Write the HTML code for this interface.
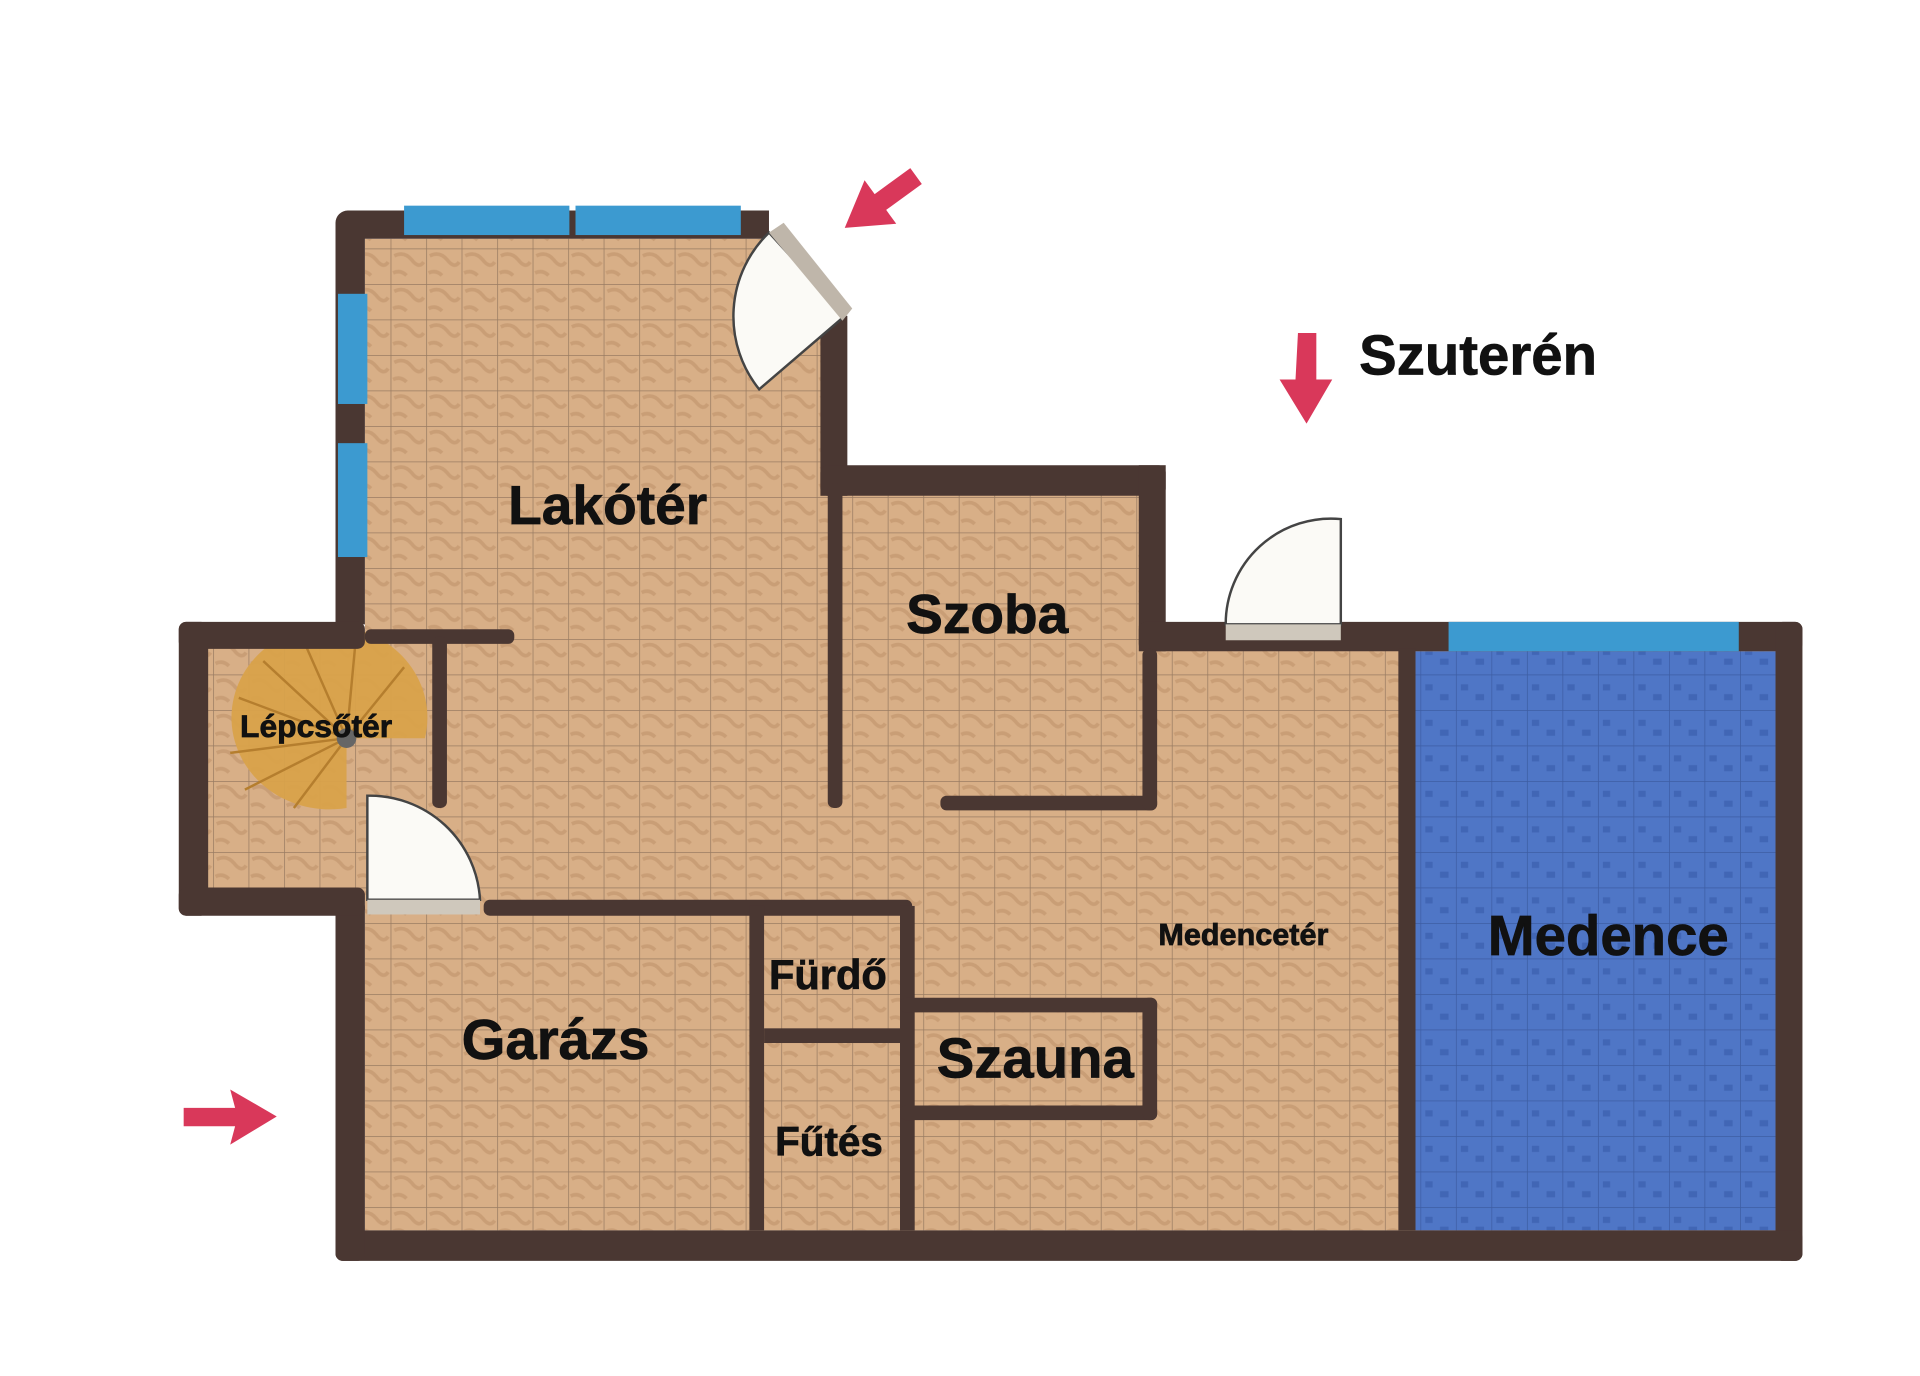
<!DOCTYPE html>
<html><head><meta charset="utf-8"><style>
html,body{margin:0;padding:0;background:#fff;}
svg{display:block;}
text{font-family:"Liberation Sans",sans-serif;font-weight:bold;fill:#111;stroke:#111;stroke-width:0.6;}
</style></head><body>
<svg width="1920" height="1376" viewBox="0 0 1568 1124" preserveAspectRatio="none" xmlns="http://www.w3.org/2000/svg">
<defs>
<pattern id="tile" width="29" height="29" patternUnits="userSpaceOnUse">
<rect width="29" height="29" fill="#d8af87"/>
<path d="M3 6 q8 -4 14 3 q6 8 10 2 M2 20 q6 -3 11 2" stroke="#c49870" stroke-width="3" fill="none" opacity=".7"/>
<path d="M0 0H29M0 0V29" stroke="#7d6552" stroke-width="1.2" opacity=".7"/>
</pattern>
<pattern id="pool" width="29" height="29" patternUnits="userSpaceOnUse">
<rect width="29" height="29" fill="#4f76c6"/>
<path d="M4 8 h6 v5 h-6z M16 16 h7 v5 h-7z" fill="#3a5fae" opacity=".7"/>
<path d="M0 0H29M0 0V29" stroke="#2f4c8c" stroke-width="1.2" opacity=".6"/>
</pattern>
</defs>
<rect width="1568" height="1124" fill="#fff"/>
<polygon points="298,195 628,195 680,255 680,395 940,395 940,530 1450,530 1450,1005 298,1005 298,735 160,735 160,520 298,520" fill="url(#tile)"/>
<rect x="1156" y="532" width="294" height="473" fill="url(#pool)"/>
<!-- stairs -->
<g>
<path d="M283 603 L347 603 A80 75 0 1 0 283 660 Z" fill="#d9a24a" opacity=".95"/>
<path d="M283 603 L195 570 M283 603 L215 540 M283 603 L250 528 M283 603 L290 528 M283 603 L330 545 M283 603 L188 615 M283 603 L200 645 M283 603 L240 660" stroke="#b57e2e" stroke-width="2"/>
<circle cx="283" cy="603" r="8" fill="#666"/>
</g>
<g fill="#4a3732">
<path d="M274 182 a10 10 0 0 1 10 -10 H628 V195 H298 V510 H274Z"/>
<rect x="670" y="258" width="22" height="147"/>
<rect x="670" y="380" width="282" height="25" rx="6"/>
<rect x="930" y="380" width="22" height="152"/>
<rect x="930" y="508" width="542" height="24" rx="6"/>
<rect x="1450" y="508" width="22" height="522" rx="6"/>
<rect x="274" y="1005" width="1198" height="25" rx="6"/>
<rect x="274" y="735" width="24" height="295" rx="6"/>
<rect x="146" y="508" width="152" height="22" rx="6"/>
<rect x="146" y="508" width="24" height="240" rx="6"/>
<rect x="146" y="725" width="152" height="23" rx="6"/>
<rect x="298" y="514" width="122" height="12" rx="5"/>
<rect x="353" y="520" width="12" height="140" rx="5"/>
<rect x="395" y="735" width="350" height="13" rx="5"/>
<rect x="676" y="395" width="12" height="265" rx="5"/>
<rect x="768" y="650" width="177" height="12" rx="5"/>
<rect x="933" y="530" width="12" height="132" rx="5"/>
<rect x="612" y="740" width="12" height="265"/>
<rect x="735" y="740" width="12" height="265"/>
<rect x="624" y="840" width="111" height="12"/>
<rect x="735" y="815" width="210" height="12" rx="5"/>
<rect x="735" y="903" width="210" height="12" rx="5"/>
<rect x="933" y="815" width="12" height="100" rx="5"/>
<rect x="1142" y="530" width="14" height="475"/>
</g>
<g fill="#3c9ad0">
<rect x="330" y="168" width="135" height="24"/>
<rect x="470" y="168" width="135" height="24"/>
<rect x="276" y="240" width="24" height="90"/>
<rect x="276" y="362" width="24" height="93"/>
<rect x="1183" y="508" width="237" height="24"/>
</g>
<g fill="#fbfaf6" stroke="#444" stroke-width="2">
<path d="M1095 510 V424 A86 86 0 0 0 1001 510Z"/>
<rect x="1001" y="510" width="94" height="13" fill="#cfc8bc" stroke="none"/>
<path d="M300 735 V650 A90 90 0 0 1 392 735Z"/>
<rect x="300" y="735" width="92" height="12" fill="#cfc8bc" stroke="none"/>
<path d="M628 190 L690 258 L620 318 A95 95 0 0 1 628 190Z"/>
<polygon points="628,190 640,182 696,252 688,262" fill="#bfb6aa" stroke="none"/>
</g>
<g fill="#d9385a">
<polygon transform="translate(719,165) rotate(54)" points="-8,-36 8,-36 8,0 22,0 0,36 -22,0 -8,0"/>
<polygon points="1060,272 1075,272 1075,310 1088,310 1067,346 1045,310 1058,310"/>
<polygon points="150,905 192,905 188,890 226,912 188,935 192,920 150,920"/>
</g>
<text x="1110" y="306" font-size="46">Szuterén</text>
<text x="415" y="428" font-size="45">Lakótér</text>
<text x="740" y="517" font-size="45">Szoba</text>
<text x="196" y="602" font-size="26">Lépcsőtér</text>
<text x="946" y="772" font-size="25">Medencetér</text>
<text x="1215" y="780" font-size="46">Medence</text>
<text x="628" y="808" font-size="34">Fürdő</text>
<text x="377" y="865" font-size="46">Garázs</text>
<text x="765" y="880" font-size="46">Szauna</text>
<text x="633" y="944" font-size="33">Fűtés</text>
</svg>
</body></html>
